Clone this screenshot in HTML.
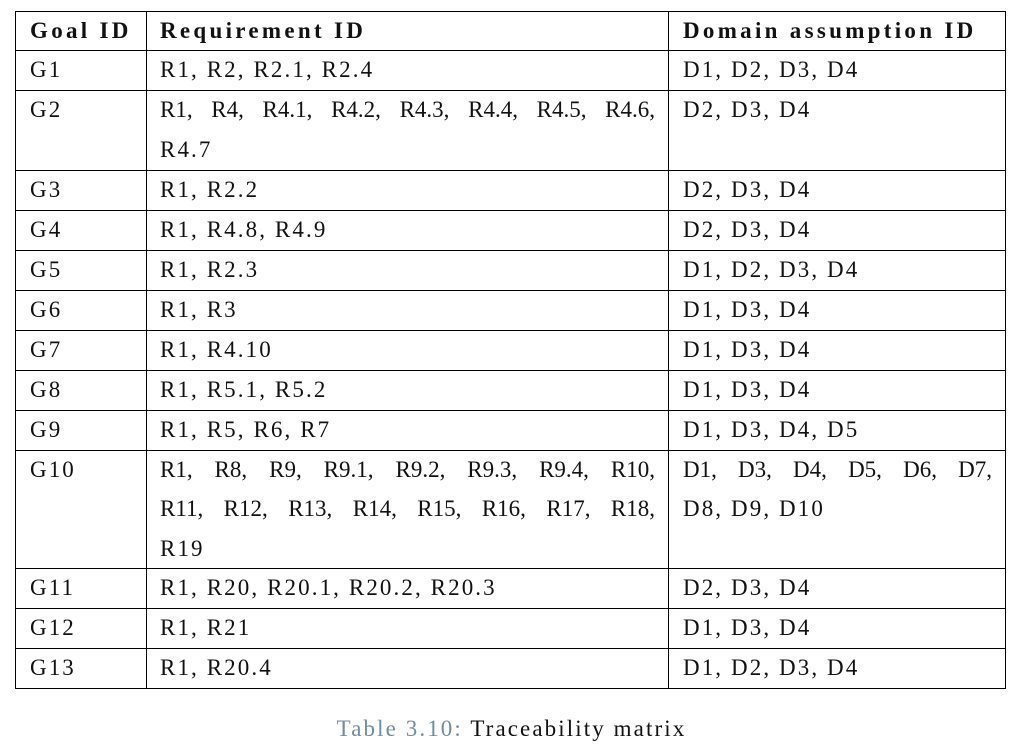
<!DOCTYPE html>
<html><head><meta charset="utf-8"><style>
body{margin:0;width:1023px;height:752px;background:#fff;position:relative;font-family:"Liberation Serif",serif;font-size:23px;letter-spacing:2.1px;color:#111;overflow:hidden}
.h{position:absolute;background:#000;height:1px}
.v{position:absolute;background:#000;width:1px}
.t{position:absolute;height:40px;line-height:40px;white-space:nowrap}
.j{text-align:justify;text-align-last:justify;white-space:normal;letter-spacing:0}
b{font-weight:bold;letter-spacing:3.3px}
</style></head><body>
<div id="tbl"></div>
<div style="position:absolute;top:712px;left:0;width:1023px;text-align:center;line-height:34px"><span style="color:#6f8ca0">Table 3.10:</span> Traceability matrix</div>
<script>
const rows=[
["G1",["R1, R2, R2.1, R2.4"],["D1, D2, D3, D4"]],
["G2",["R1, R4, R4.1, R4.2, R4.3, R4.4, R4.5, R4.6,","R4.7"],["D2, D3, D4"]],
["G3",["R1, R2.2"],["D2, D3, D4"]],
["G4",["R1, R4.8, R4.9"],["D2, D3, D4"]],
["G5",["R1, R2.3"],["D1, D2, D3, D4"]],
["G6",["R1, R3"],["D1, D3, D4"]],
["G7",["R1, R4.10"],["D1, D3, D4"]],
["G8",["R1, R5.1, R5.2"],["D1, D3, D4"]],
["G9",["R1, R5, R6, R7"],["D1, D3, D4, D5"]],
["G10",["R1, R8, R9, R9.1, R9.2, R9.3, R9.4, R10,","R11, R12, R13, R14, R15, R16, R17, R18,","R19"],["D1, D3, D4, D5, D6, D7,","D8, D9, D10"]],
["G11",["R1, R20, R20.1, R20.2, R20.3"],["D2, D3, D4"]],
["G12",["R1, R21"],["D1, D3, D4"]],
["G13",["R1, R20.4"],["D1, D2, D3, D4"]]
];
const T=document.getElementById('tbl');
function add(cls,style,html,name){const d=document.createElement('div');d.className=cls;d.style.cssText=style;if(html)d.innerHTML=html;


T.appendChild(d);return d;}
const L=15,R=1005,C1=146,C2=668,top0=11;
add('h',`left:${L}px;top:${top0}px;width:${R-L+1}px`,'','table-top-border');
add('t',`left:30px;top:${top0}px;height:39px;line-height:39px`,'<b>Goal ID</b>','header-goal-id');
add('t',`left:160px;top:${top0}px;height:39px;line-height:39px`,'<b>Requirement ID</b>','header-requirement-id');
add('t',`left:683px;top:${top0}px;height:39px;line-height:39px`,'<b>Domain assumption ID</b>','header-domain-assumption-id');
let y=50;
add('h',`left:${L}px;top:${y}px;width:${R-L+1}px`,'','header-rule');
rows.forEach((r,i)=>{
  const n=Math.max(r[1].length,r[2].length);
  const lh=n==3?39.3:40;
  add('t',`left:30px;top:${y}px`,r[0],'goal-cell');
  r[1].forEach((s,k)=>add('t'+(k<r[1].length-1?' j':''),`left:160px;top:${y+k*lh}px;width:495px`,s,'requirement-cell'));
  r[2].forEach((s,k)=>add('t'+(k<r[2].length-1?' j':''),`left:683px;top:${y+k*lh}px;width:309px`,s,'domain-cell'));
  y+=Math.round(n*lh);
  add('h',`left:${L}px;top:${y}px;width:${R-L+1}px`,'','row-rule');
});
[L,C1,C2,R].forEach(x=>add('v',`left:${x}px;top:${top0}px;height:${y-top0+1}px`,'','column-rule'));
</script>
</body></html>
